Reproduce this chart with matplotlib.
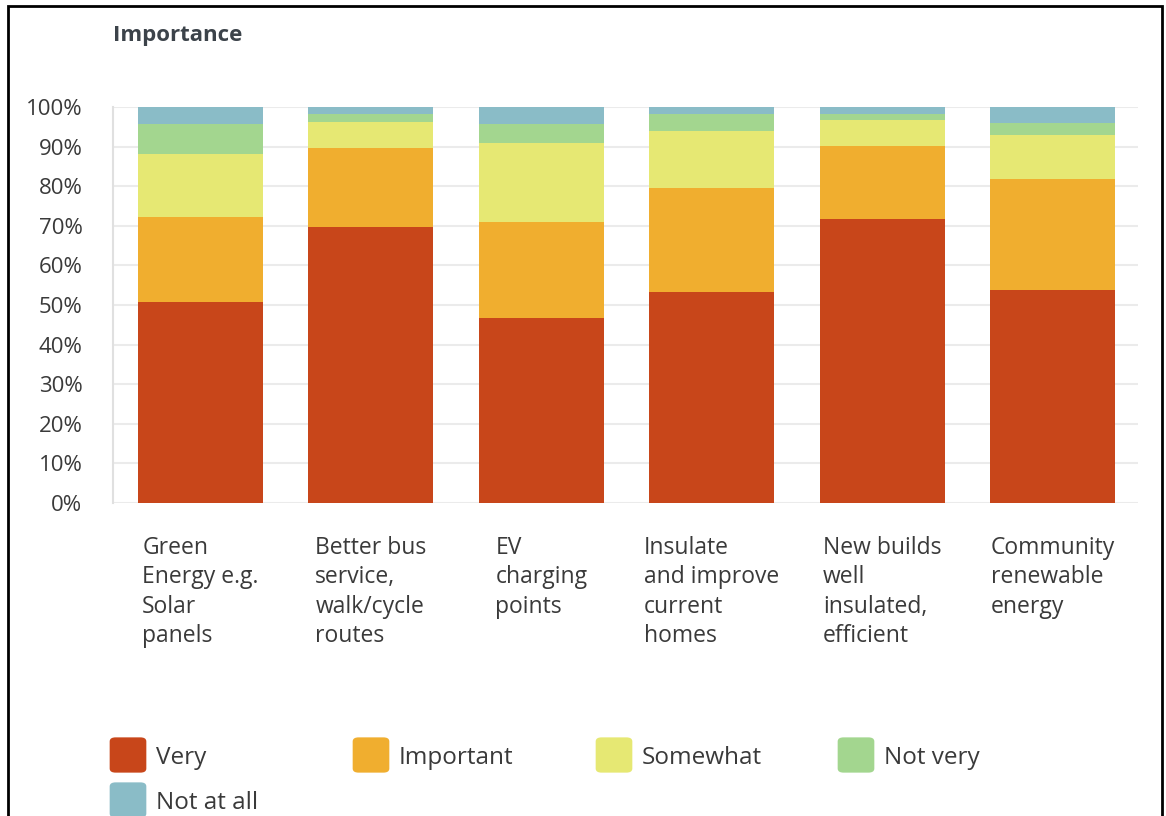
import numpy as np
import matplotlib.pyplot as plt
from matplotlib.patches import FancyBboxPatch, Rectangle

plt.rcParams['font.family'] = ['Open Sans', 'DejaVu Sans']

categories = ['Green\nEnergy e.g.\nSolar\npanels',
              'Better bus\nservice,\nwalk/cycle\nroutes',
              'EV\ncharging\npoints',
              'Insulate\nand improve\ncurrent\nhomes',
              'New builds\nwell\ninsulated,\nefficient',
              'Community\nrenewable\nenergy']
series = ['Very', 'Important', 'Somewhat', 'Not very', 'Not at all']
very = [50.7, 69.6, 46.8, 53.2, 71.7, 53.7]
important = [21.4, 20.1, 24.2, 26.4, 18.5, 28.0]
somewhat = [16.0, 6.4, 19.8, 14.4, 6.4, 11.2]
not_very = [7.5, 2.1, 4.8, 4.2, 1.6, 3.1]
not_at_all = [4.4, 1.8, 4.4, 1.8, 1.8, 4.0]
colors = ['#c8461a', '#f0ae2f', '#e6e873', '#a3d68f', '#8abcc7']

fig = plt.figure(figsize=(11.66, 8.16), dpi=100)
W, H = 1166, 816
# axes: x 113..1138, y 107..503 (pixels from top)
ax = fig.add_axes([113 / W, 1 - 503 / H, (1138 - 113) / W, (503 - 107) / H])

x = np.arange(len(categories))
bottom = np.zeros(len(categories))
for vals, col in zip([very, important, somewhat, not_very, not_at_all], colors):
    ax.bar(x, vals, bottom=bottom, width=0.733, color=col, edgecolor='none', zorder=3)
    bottom += np.array(vals)

ax.set_xlim(-0.513, 5.5)
ax.set_ylim(0, 100)
ax.set_yticks(np.arange(0, 101, 10))
ax.set_yticklabels(['%d%%' % v for v in range(0, 101, 10)], fontsize=16, color='#3a3a3a')
ax.set_xticks([])
ax.tick_params(axis='y', length=0, pad=22)
ax.grid(axis='y', color='#ebebeb', linewidth=1.5, zorder=0)
ax.set_axisbelow(True)
for s in ['top', 'right', 'bottom']:
    ax.spines[s].set_visible(False)
ax.spines['left'].set_color('#e0e0e0')
ax.spines['left'].set_linewidth(1.5)

# category labels, block centred under each bar, lines left aligned
for i, lab in enumerate(categories):
    ax.text(i, -8.3, lab, ha='center', va='top', multialignment='left',
            fontsize=16.5, color='#3a3a3a', linespacing=1.3, clip_on=False)

fig.text(113 / W, 1 - 36 / H, 'Importance', fontsize=16, fontweight='bold',
         color='#3c434a', ha='left', va='center')

# legend
leg_x = [110, 353, 596, 838, 110]
leg_y = [755, 755, 755, 755, 800]
for lx, ly, lab, col in zip(leg_x, leg_y, series, colors):
    box = FancyBboxPatch(((lx + 2) / W, 1 - (ly + 16) / H), 32 / W, 32 / H,
                         boxstyle='round,pad=0.002,rounding_size=0.005',
                         transform=fig.transFigure, facecolor=col, edgecolor='none')
    fig.patches.append(box)
    fig.text((lx + 46) / W, 1 - (ly + 3) / H, lab, fontsize=17.5, color='#3a3a3a',
             ha='left', va='center')

# outer frame
fig.patches.append(Rectangle((8 / W, -0.01), (1162 - 8) / W, 1.01 - 6 / H,
                             transform=fig.transFigure, fill=False,
                             edgecolor='black', linewidth=2))

fig.savefig('out.png', dpi=100)
